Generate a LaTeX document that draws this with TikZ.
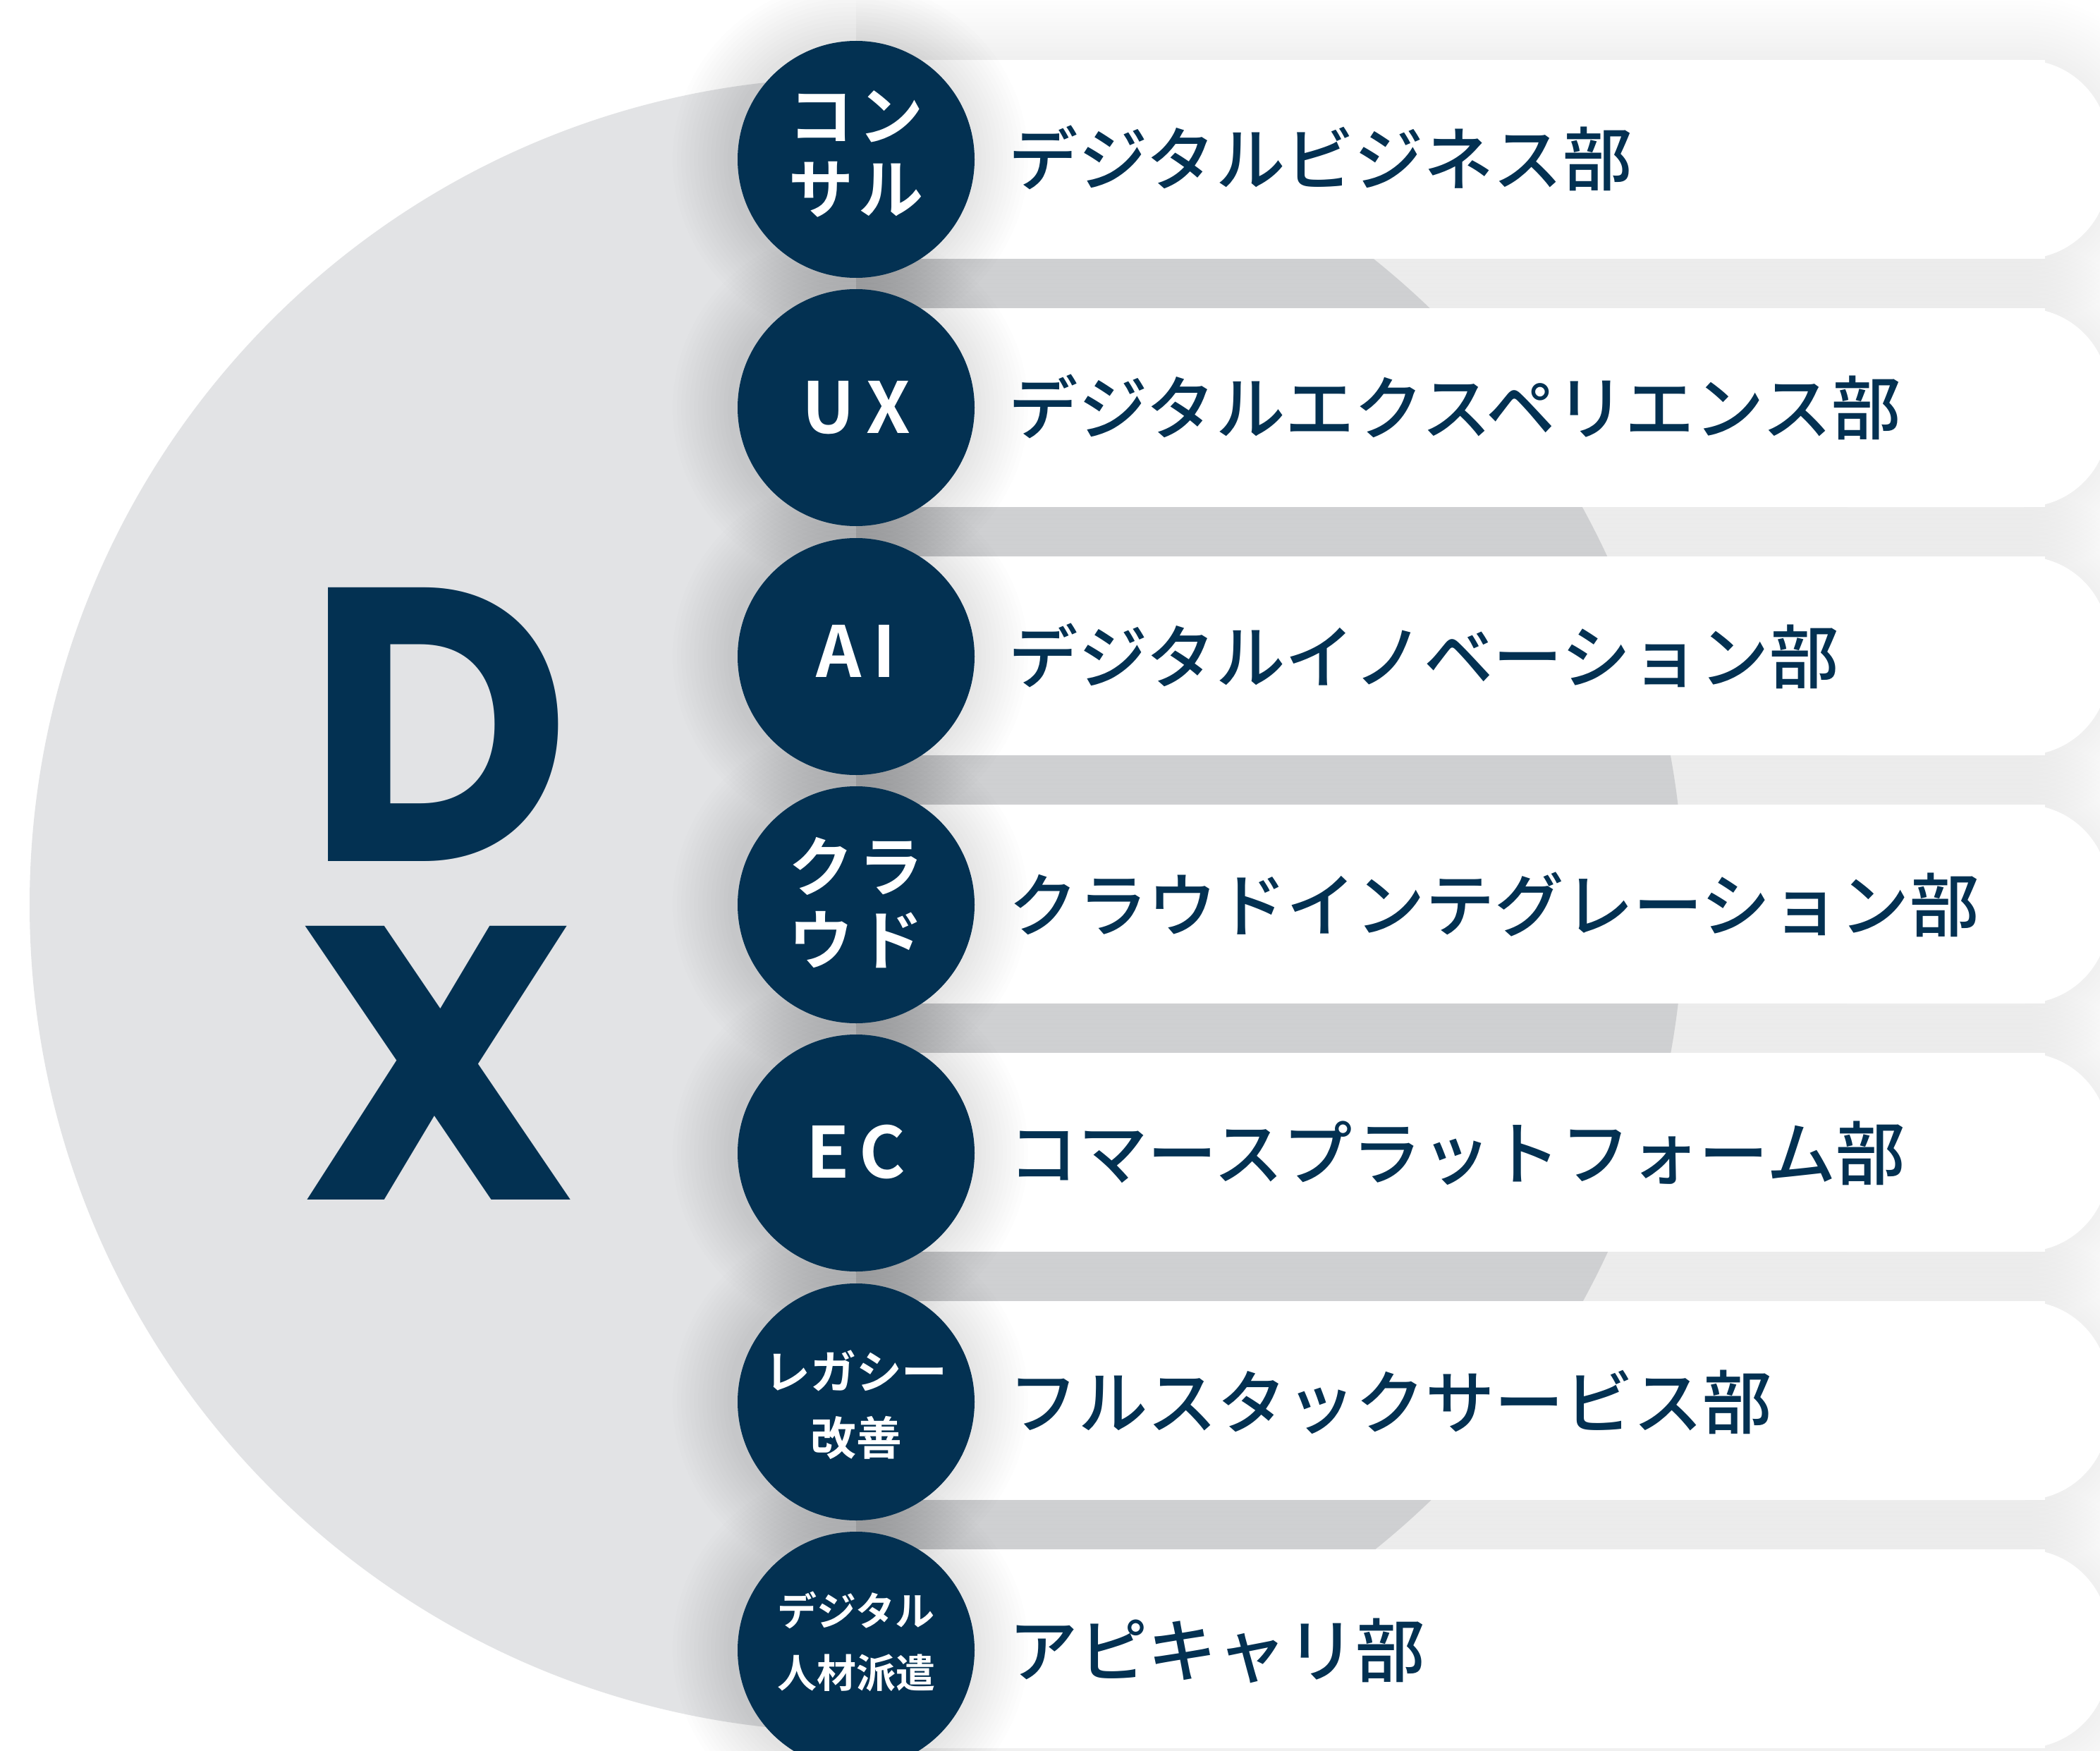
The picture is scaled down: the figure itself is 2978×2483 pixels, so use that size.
\documentclass[tikz,border=0pt]{standalone}
\usepackage{fontspec}
\newfontfamily\jpfont{Noto Sans CJK JP}[BoldFont={Noto Sans CJK JP Bold}]
\newfontfamily\jpmed{Noto Sans CJK JP Medium}
\newfontfamily\dxfont{Poppins}
\definecolor{navy}{HTML}{033152}
\definecolor{bggray}{HTML}{E2E3E5}
\tikzset{
  navycirc/.style={circle, fill=navy, minimum size=84pt, inner sep=0pt},
  circtext/.style={text=white, align=center, inner sep=0pt},
  biglabel/.style={circtext, font=\jpfont\bfseries\fontsize{23pt}{26pt}\selectfont},
  latlabel/.style={circtext, font=\jpfont\bfseries\fontsize{25pt}{28pt}\selectfont},
  bartext/.style={text=navy, inner sep=0pt, anchor=base west, font=\jpmed\fontsize{24.6pt}{28pt}\selectfont},
  dxletters/.style={text=navy, inner sep=0pt, align=center, anchor=north, font=\dxfont\bfseries\fontsize{138.25pt}{120pt}\selectfont},
}
\begin{document}
\begin{tikzpicture}[x=0.25pt,y=-0.25pt]
\useasboundingbox (0,0) rectangle (2978,2483);
\fill[white] (0,0) rectangle (2978,2483);
% big gray circle
\fill[bggray] (1215,1283) circle [radius=1173];
% bar shadows
\begin{scope}
  \clip (1214,-200) rectangle (3200,2700);
  \foreach \i in {0,...,6}{
    \pgfmathsetmacro\cy{226+352*\i}
    \foreach \d in {6,12,...,90}{
      \pgfmathsetmacro\rr{(120+\d)*0.25}
      \fill[black, opacity=0.005, rounded corners=\rr pt] (900,{\cy-141-\d}) rectangle ({2990+\d},{\cy+141+\d});
    }
  }
\end{scope}
% bars
\foreach \i in {0,...,6}{
  \pgfmathsetmacro\cy{226+352*\i}
  \fill[white] (1214,{\cy-141}) rectangle (2900,{\cy+141});
  \fill[white, rounded corners=30pt] (2500,{\cy-141}) rectangle (2990,{\cy+141});
}
% navy circle shadows
\foreach \i in {0,...,6}{
  \pgfmathsetmacro\cy{226+352*\i}
  \foreach \d in {6,12,...,84}{
    \fill[black, opacity=0.009] (1206,\cy) circle [radius={168+\d}];
  }
}
% navy circles
\node[navycirc] (c1) at (1214,226) {};
\node[navycirc] (c2) at (1214,578) {};
\node[navycirc] (c3) at (1214,931) {};
\node[navycirc] (c4) at (1214,1283) {};
\node[navycirc] (c5) at (1214,1635) {};
\node[navycirc] (c6) at (1214,1988) {};
\node[navycirc] (c7) at (1214,2340) {};
% circle labels
\node[biglabel] (l1) at (1214,218) {コ\hspace{2pt}ン\\サ\hspace{2pt}ル};
\node[latlabel] (l2) at (1214,578) {U\hspace{4pt}X};
\node[latlabel] (l3) at (1214,923) {A\hspace{4pt}I};
\node[biglabel] (l4) at (1214,1280) {ク\hspace{2pt}ラ\\ウ\hspace{2pt}ド};
\node[latlabel] (l5) at (1214,1633) {E\hspace{3.5pt}C};
\node[circtext, font=\jpfont\bfseries\fontsize{16.2pt}{23.5pt}\selectfont] (l6) at (1214,1992) {レガシー\\改善};
\node[circtext, font=\jpfont\bfseries\fontsize{14pt}{22pt}\selectfont] (l7) at (1214,2328) {デジタル\\人材派遣};
% bar texts
\node[bartext] (t1) at (1430,263) {デジタルビジネス部};
\node[bartext] (t2) at (1430,615) {デジタルエクスペリエンス部};
\node[bartext] (t3) at (1430,968) {デジタルイノベーション部};
\node[bartext] (t4) at (1430,1320) {クラウドインテグレーション部};
\node[bartext] (t5) at (1430,1672) {コマースプラットフォーム部};
\node[bartext] (t6) at (1430,2025) {フルスタックサービス部};
\node[bartext] (t7) at (1430,2377) {アピキャリ部};
% DX
\node[dxletters] (dx) at (621,832) {\scalebox{0.935}[1]{D}\\\scalebox{1.02}[1]{X}};
\end{tikzpicture}
\end{document}
